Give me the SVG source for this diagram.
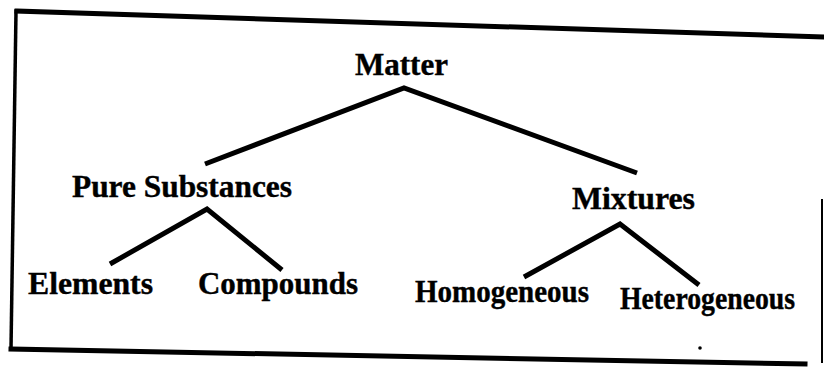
<svg xmlns="http://www.w3.org/2000/svg" width="824" height="368" viewBox="0 0 824 368">
  <style>
    .lbl { font-family: "Liberation Serif", "Times New Roman", serif; font-weight: bold; font-size: 31px; fill: #000; stroke: #000; stroke-width: 0.4; }
    .edge { stroke: #000; stroke-width: 5; stroke-linecap: butt; stroke-linejoin: miter; fill: none; }
    .frame { stroke: #000; fill: none; stroke-linecap: square; }
  </style>
  <rect width="824" height="368" fill="#fff"/>
  <g id="frame">
    <line class="frame" x1="17" y1="11" x2="824" y2="37" stroke-width="5"/>
    <line class="frame" x1="16" y1="11" x2="11" y2="349" stroke-width="3.5"/>
    <line class="frame" x1="11" y1="349" x2="805" y2="364" stroke-width="5"/>
    <line class="frame" x1="822" y1="200" x2="822" y2="362" stroke-width="2"/>
    <circle cx="700" cy="348" r="1.8" fill="#000"/>
  </g>
  <g id="connectors">
    <polyline class="edge" points="205,164 404,88 637,173"/>
    <polyline class="edge" points="110,264 207,209 282,270"/>
    <polyline class="edge" points="524,277 620,224 699,285"/>
  </g>
  <g id="node-matter"><text class="lbl" x="355" y="75" textLength="93" lengthAdjust="spacingAndGlyphs">Matter</text></g>
  <g id="node-pure"><text class="lbl" x="72" y="197" textLength="220" lengthAdjust="spacingAndGlyphs">Pure Substances</text></g>
  <g id="node-mixtures"><text class="lbl" x="572" y="209" textLength="123" lengthAdjust="spacingAndGlyphs">Mixtures</text></g>
  <g id="node-elements"><text class="lbl" x="28" y="294" textLength="125" lengthAdjust="spacingAndGlyphs">Elements</text></g>
  <g id="node-compounds"><text class="lbl" x="198" y="294" textLength="160" lengthAdjust="spacingAndGlyphs">Compounds</text></g>
  <g id="node-homogeneous"><text class="lbl" x="415" y="302" textLength="174" lengthAdjust="spacingAndGlyphs">Homogeneous</text></g>
  <g id="node-heterogeneous"><text class="lbl" x="620" y="309" textLength="175" lengthAdjust="spacingAndGlyphs">Heterogeneous</text></g>
</svg>
